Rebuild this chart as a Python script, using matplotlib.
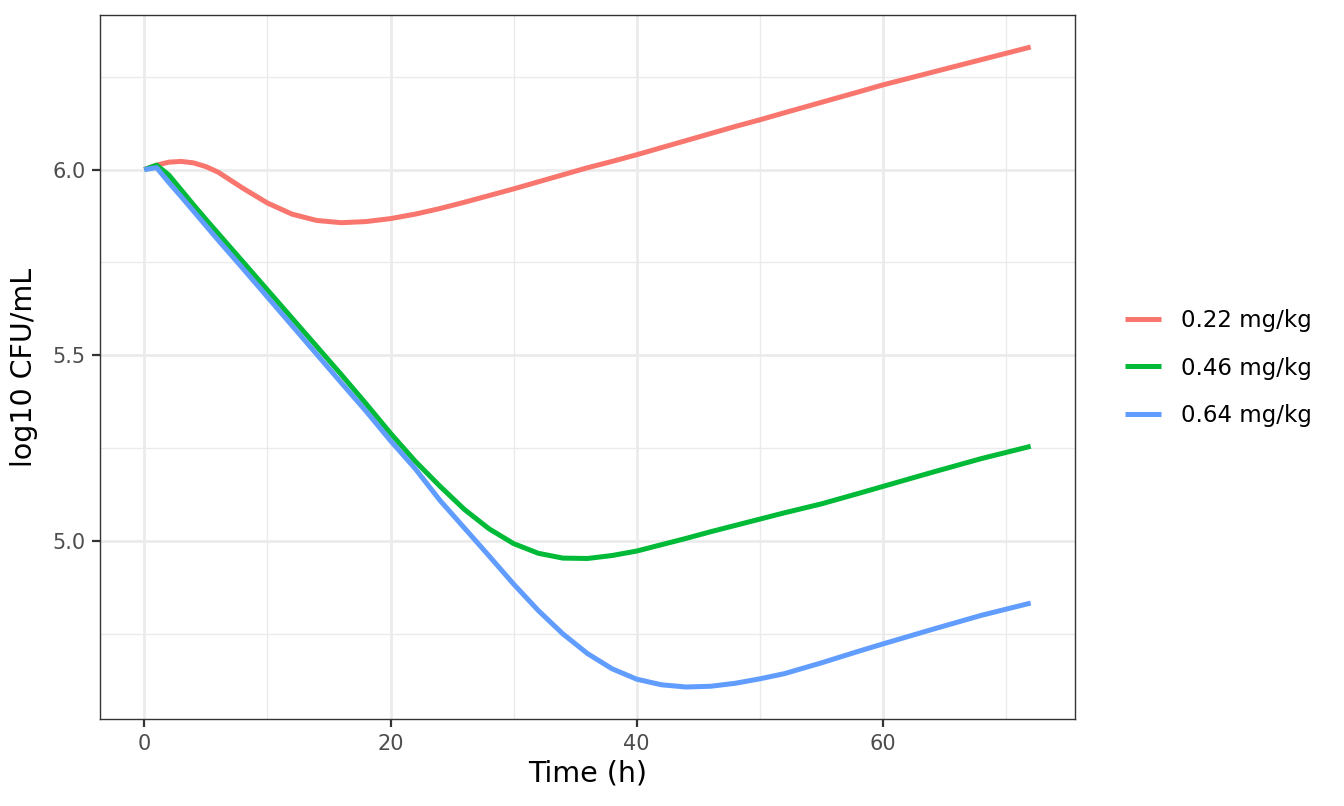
import matplotlib.pyplot as plt
from matplotlib.ticker import MultipleLocator

# time grid (h) and log10 CFU/mL
time_h = [0, 1, 2, 3, 4, 5, 6, 8, 10, 12, 14, 16, 18, 20, 22, 24, 26, 28, 30,
          32, 34, 36, 38, 40, 42, 44, 46, 48, 50, 52, 55, 58, 60, 64, 68, 72]
dose_022 = [6.000, 6.012, 6.020, 6.022, 6.018, 6.008, 5.993, 5.950, 5.910, 5.880,
            5.863, 5.857, 5.860, 5.868, 5.880, 5.895, 5.912, 5.930, 5.948, 5.967,
            5.986, 6.005, 6.022, 6.040, 6.059, 6.078, 6.097, 6.116, 6.134, 6.153,
            6.181, 6.209, 6.228, 6.262, 6.296, 6.330]
dose_046 = [6.000, 6.012, 5.985, 5.945, 5.905, 5.866, 5.828, 5.752, 5.676, 5.600,
            5.524, 5.448, 5.370, 5.290, 5.215, 5.148, 5.085, 5.033, 4.993, 4.967,
            4.954, 4.953, 4.961, 4.973, 4.990, 5.007, 5.025, 5.042, 5.059, 5.076,
            5.100, 5.128, 5.147, 5.185, 5.222, 5.255]
dose_064 = [6.000, 6.005, 5.965, 5.927, 5.888, 5.849, 5.810, 5.734, 5.657, 5.580,
            5.503, 5.426, 5.350, 5.270, 5.195, 5.110, 5.035, 4.960, 4.884, 4.813,
            4.750, 4.697, 4.656, 4.628, 4.613, 4.607, 4.609, 4.617, 4.629, 4.643,
            4.672, 4.703, 4.723, 4.762, 4.800, 4.833]

labels = ['0.22 mg/kg', '0.46 mg/kg', '0.64 mg/kg']
colors = ['#F8766D', '#00BA38', '#619CFF']

fig = plt.figure(figsize=(13.44, 8.06), dpi=100)
ax = fig.add_axes([100/1344, 1 - 719/806, 975/1344, 704/806])

for y, lab, c in zip([dose_022, dose_046, dose_064], labels, colors):
    ax.plot(time_h, y, color=c, lw=3.6, label=lab, solid_capstyle='butt',
            solid_joinstyle='round')

# ggplot-like expansion (5%)
xr = max(time_h) - min(time_h)
ax.set_xlim(min(time_h) - 0.05*xr, max(time_h) + 0.05*xr)
allv = dose_022 + dose_046 + dose_064
yr = max(allv) - min(allv)
ax.set_ylim(min(allv) - 0.05*yr, max(allv) + 0.05*yr)

# theme_bw look
ax.xaxis.set_major_locator(MultipleLocator(20))
ax.xaxis.set_minor_locator(MultipleLocator(10))
ax.yaxis.set_major_locator(MultipleLocator(0.5))
ax.yaxis.set_minor_locator(MultipleLocator(0.25))
ax.yaxis.set_major_formatter(plt.FormatStrFormatter('%.1f'))
ax.grid(which='major', color='#EBEBEB', lw=2.0)
ax.grid(which='minor', color='#EBEBEB', lw=1.0)
ax.set_axisbelow(True)
for s in ax.spines.values():
    s.set_color('#333333')
    s.set_linewidth(1.0)
ax.tick_params(which='major', length=5.5, width=1.6, color='#333333',
               labelsize=15, labelcolor='#4D4D4D', pad=5)
ax.tick_params(which='minor', length=0)

ax.set_xlabel('Time (h)', fontsize=20.5, labelpad=4)
ax.set_ylabel('log10 CFU/mL', fontsize=20.5, labelpad=10)

fig.legend(loc='center left', bbox_to_anchor=(1104/1344, 1 - 368/806),
           frameon=False, fontsize=16.5, handlelength=1.6, labelspacing=1.05,
           handletextpad=0.85)

plt.savefig('out.png', dpi=100)
